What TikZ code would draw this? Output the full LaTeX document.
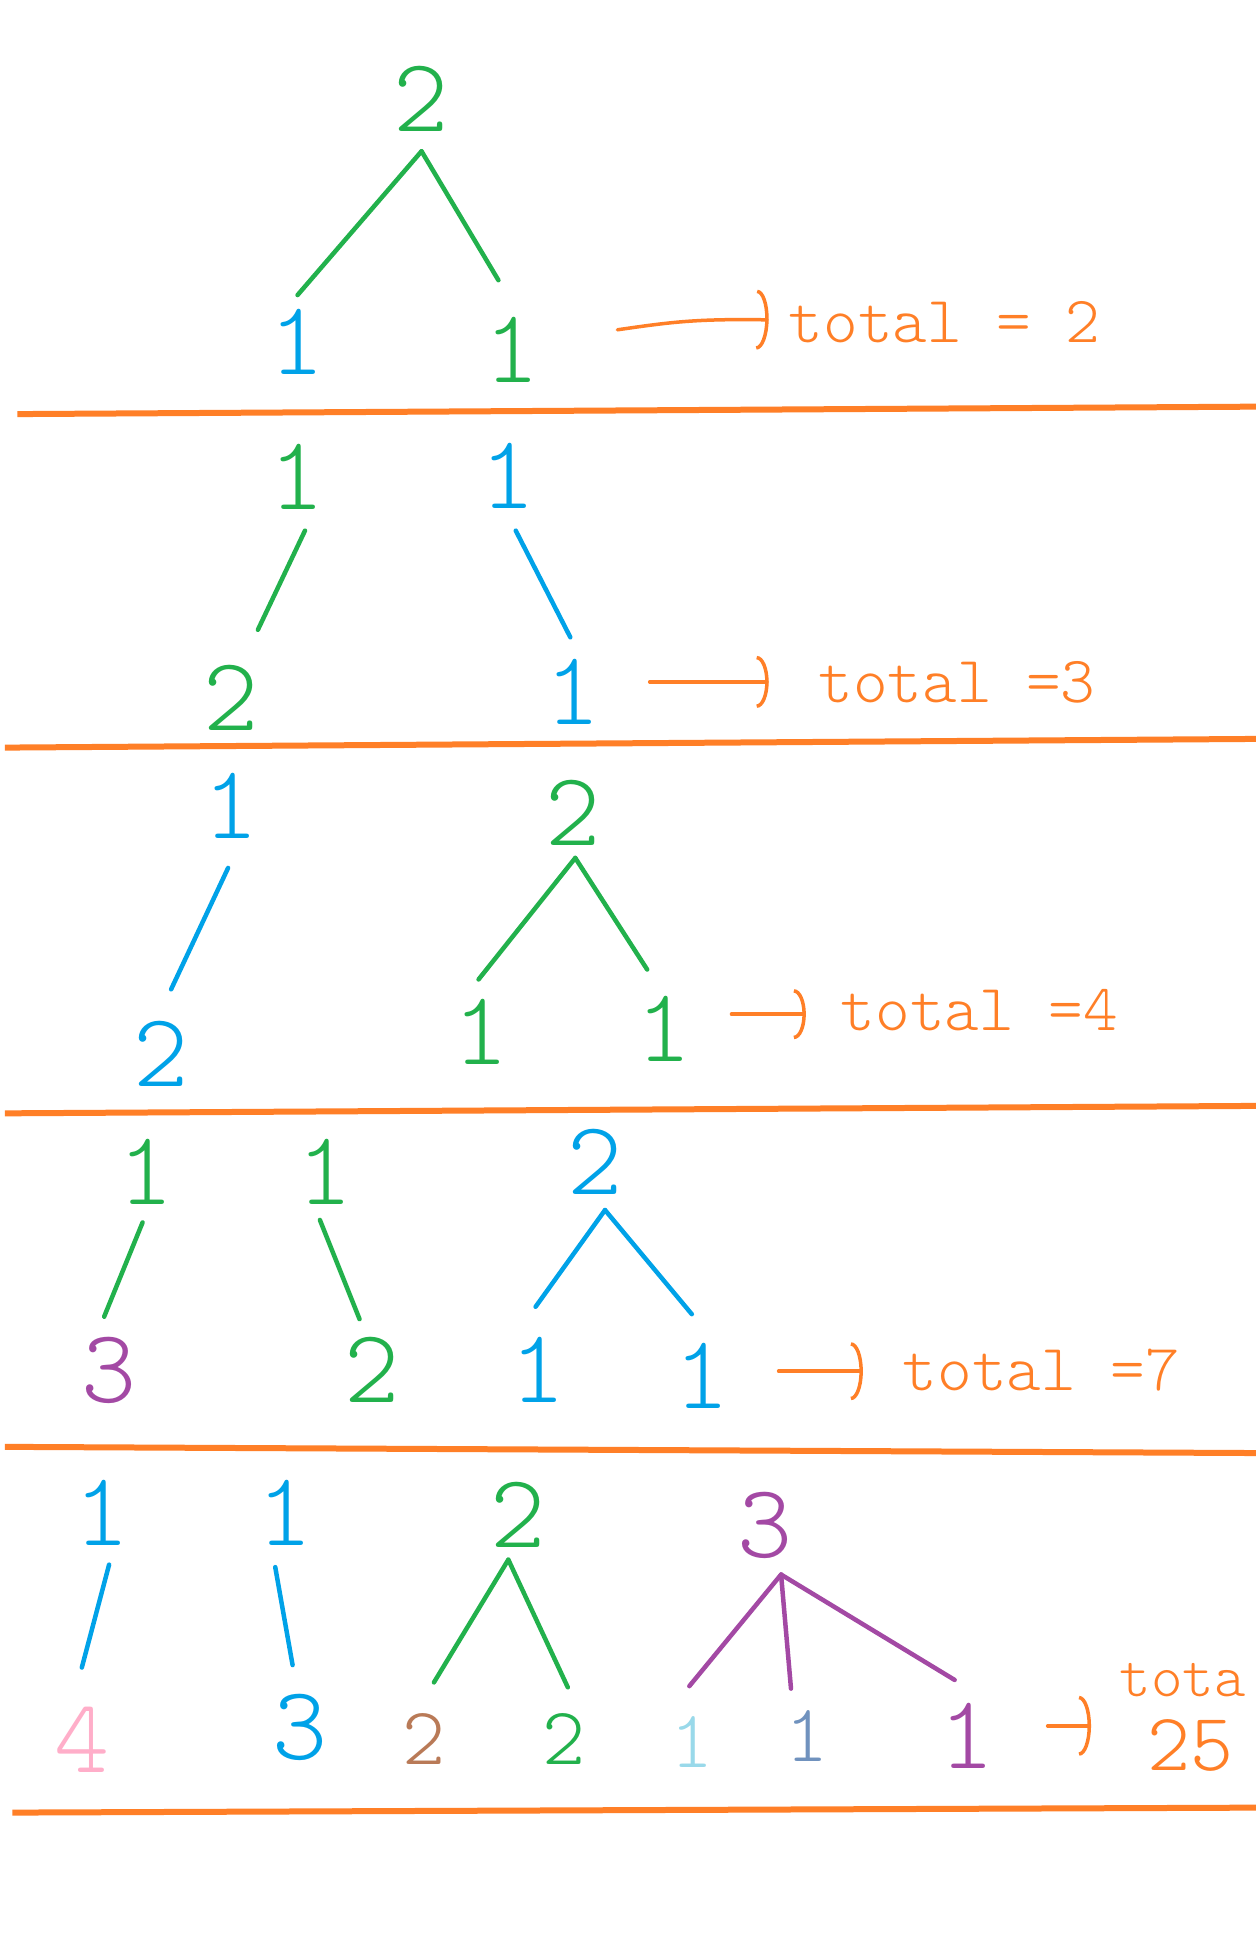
\documentclass[tikz,border=0pt]{standalone}
\usepackage{fontspec}
\usetikzlibrary{arrows.meta}
\newfontfamily\hand{lmmonolt10-regular.otf}
\newcommand\digfont{\hand\fontsize{105}{105}\selectfont}
\newcommand\middigfont{\hand\fontsize{82}{82}\selectfont}
\newcommand\lblfont{\hand\fontsize{66}{66}\selectfont}
\definecolor{pgreen}{HTML}{22B14C}
\definecolor{pblue}{HTML}{00A2E8}
\definecolor{porange}{HTML}{FF7F27}
\definecolor{ppurple}{HTML}{A349A4}
\definecolor{ppink}{HTML}{FFAEC9}
\definecolor{pbrown}{HTML}{B97A57}
\definecolor{plblue}{HTML}{99D9EA}
\definecolor{psteel}{HTML}{7092BE}
\begin{document}
\begin{tikzpicture}[x=1.24pt,y=-1.24pt,
  digit/.style={inner sep=0pt,font=\digfont},
  middigit/.style={inner sep=0pt,font=\middigfont},
  lab/.style={inner sep=0pt,font=\lblfont,text=porange,anchor=west},
  tline/.style={line width=4.5pt,line cap=round},
  sepline/.style={line width=6pt,draw=porange},
  tarrow/.style={draw=porange,line width=3.5pt,line cap=round,-{Arc Barb[length=12pt,width=#1]}},
  tarrow/.default=56pt]
\fill[white] (0,0) rectangle (1013,1568);
\useasboundingbox (0,0) rectangle (1013,1568);

% ---------- Section 1
\node[digit,text=pgreen] (p1) at (340,80) {2};
\node[digit,text=pblue] (c1a) at (240,276) {1};
\node[digit,text=pgreen] (c1b) at (413,282) {1};
\draw[tline,pgreen] ([shift={(0,42)}]p1.center) -- ([shift={(0,-38)}]c1a.center);
\draw[tline,pgreen] ([shift={(0,42)}]p1.center) -- ([shift={(-11,-56)}]c1b.center);
\coordinate (a1) at (498,266);
\node[lab] (t1) at (636,260) {total = 2};
\draw[tarrow=60pt] (a1) .. controls (540,260) and (560,257) .. ([shift={(-16,-2)}]t1.west);
\draw[sepline] (14,334) -- (1013,328);

% ---------- Section 2
\node[digit,text=pgreen] (s2a) at (240,385) {1};
\node[digit,text=pblue] (s2b) at (410,384) {1};
\node[digit,text=pgreen] (s2c) at (186,563) {2};
\node[digit,text=pblue] (s2d) at (462,558) {1};
\draw[tline,pgreen] ([shift={(6,43)}]s2a.center) -- ([shift={(22,-55)}]s2c.center);
\draw[tline,pblue] ([shift={(6,44)}]s2b.center) -- ([shift={(-2,-44)}]s2d.center);
\coordinate (a2) at (524,550);
\node[lab] (t2) at (660,550) {total =3};
\draw[tarrow=52pt] (a2) -- ([shift={(-40,0)}]t2.west);
\draw[sepline] (4,603) -- (1013,596);

% ---------- Section 3
\node[digit,text=pblue] (s3a) at (186,650) {1};
\node[digit,text=pgreen] (s3b) at (462,656) {2};
\node[digit,text=pblue] (s3c) at (130,850) {2};
\node[digit,text=pgreen] (s3d) at (388,832) {1};
\node[digit,text=pgreen] (s3e) at (536,830) {1};
\draw[tline,pblue] ([shift={(-2,50)}]s3a.center) -- ([shift={(8,-52)}]s3c.center);
\draw[tline,pgreen] ([shift={(2,36)}]s3b.center) -- ([shift={(-2,-42)}]s3d.center);
\draw[tline,pgreen] ([shift={(2,36)}]s3b.center) -- ([shift={(-14,-48)}]s3e.center);
\coordinate (a3) at (590,818);
\node[lab] (t3) at (678,815) {total =4};
\draw[tarrow=50pt] (a3) -- ([shift={(-28,3)}]t3.west);
\draw[sepline] (4,898) -- (1013,892);

% ---------- Section 4
\node[digit,text=pgreen] (s4a) at (118,945) {1};
\node[digit,text=pgreen] (s4b) at (262,945) {1};
\node[digit,text=pblue] (s4c) at (480,937) {2};
\node[digit,text=ppurple] (s4d) at (88,1105) {3};
\node[digit,text=pgreen] (s4e) at (300,1105) {2};
\node[digit,text=pblue] (s4f) at (434,1105) {1};
\node[digit,text=pblue] (s4g) at (566,1110) {1};
\draw[tline,pgreen] ([shift={(-3,41)}]s4a.center) -- ([shift={(-4,-43)}]s4d.center);
\draw[tline,pgreen] ([shift={(-4,39)}]s4b.center) -- ([shift={(-10,-41)}]s4e.center);
\draw[tline,pblue] ([shift={(8,39)}]s4c.center) -- ([shift={(-2,-51)}]s4f.center);
\draw[tline,pblue] ([shift={(8,39)}]s4c.center) -- ([shift={(-8,-50)}]s4g.center);
\coordinate (a4) at (628,1106);
\node[lab] (t4) at (728,1105) {total =7};
\draw[tarrow=58pt] (a4) -- ([shift={(-32,1)}]t4.west);
\draw[sepline] (4,1167) -- (1013,1172);

% ---------- Section 5
\node[digit,text=pblue] (s5a) at (82,1220) {1};
\node[digit,text=pblue] (s5b) at (230,1220) {1};
\node[digit,text=pgreen] (s5c) at (418,1222) {2};
\node[digit,text=ppurple] (s5d) at (617,1230) {3};
\node[digit,text=ppink] (s5e) at (66,1403) {4};
\node[digit,text=pblue] (s5f) at (242,1393) {3};
\node[middigit,text=pbrown] (s5g) at (342,1403) {2};
\node[middigit,text=pgreen] (s5h) at (455,1403) {2};
\node[middigit,text=plblue] (s5i) at (558,1405) {1};
\node[middigit,text=psteel] (s5j) at (651,1400) {1};
\node[digit,text=ppurple] (s5k) at (780,1400) {1};
\draw[tline,pblue] ([shift={(6,42)}]s5a.center) -- ([shift={(0,-58)}]s5e.center);
\draw[tline,pblue] ([shift={(-8,44)}]s5b.center) -- ([shift={(-6,-50)}]s5f.center);
\draw[tline,pgreen] ([shift={(-8,36)}]s5c.center) -- ([shift={(8,-46)}]s5g.center);
\draw[tline,pgreen] ([shift={(-8,36)}]s5c.center) -- ([shift={(3,-42)}]s5h.center);
\draw[tline,ppurple] ([shift={(13,40)}]s5d.center) -- ([shift={(-2,-45)}]s5i.center);
\draw[tline,ppurple] ([shift={(13,40)}]s5d.center) -- ([shift={(-13,-38)}]s5j.center);
\draw[tline,ppurple] ([shift={(13,40)}]s5d.center) -- ([shift={(-10,-45)}]s5k.center);
\coordinate (a5) at (845,1392);
\node[inner sep=0pt,font=\hand\fontsize{60}{60}\selectfont,text=porange,anchor=west] (t5) at (903,1355) {tota};
\node[inner sep=0pt,font=\hand\fontsize{82}{82}\selectfont,text=porange,anchor=west] (t6) at (925,1408) {25};
\draw[tarrow=60pt] (a5) -- ([shift={(-45,-16)}]t6.west);
\draw[sepline] (10,1462) -- (1013,1458);
\end{tikzpicture}
\end{document}
